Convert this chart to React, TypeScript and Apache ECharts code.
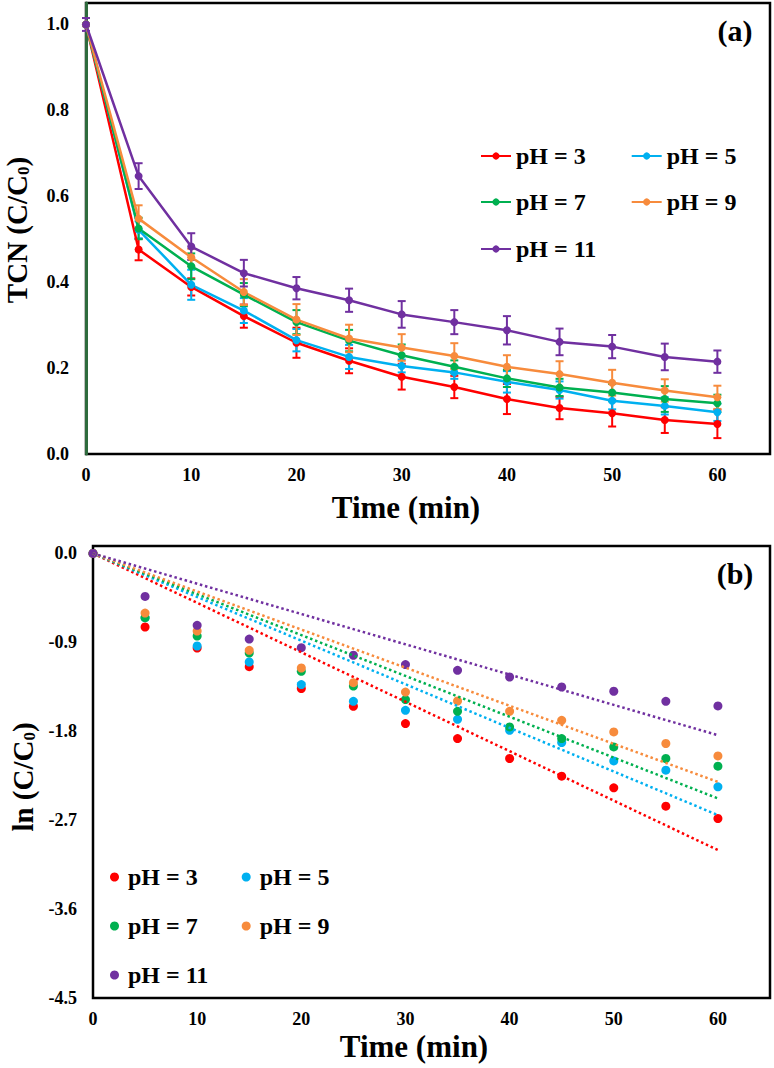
import { useEffect, useRef } from "react";
import * as echarts from "echarts";

const FONT = "'Liberation Serif', 'Times New Roman', serif";
const INK = "#000000";

// time axis (min)
const TIME = [0, 5, 10, 15, 20, 25, 30, 35, 40, 45, 50, 55, 60];
const PH = ["pH = 3", "pH = 5", "pH = 7", "pH = 9", "pH = 11"];
const COLORS = ["#FF0000", "#00B0F0", "#00B050", "#F78B3C", "#7030A0"];

// (a) TCN C/C0
const TCN_PH3 = [1.0, 0.476, 0.389, 0.321, 0.259, 0.217, 0.18, 0.156, 0.128, 0.107, 0.095, 0.079, 0.07];
const TCN_PH5 = [1.0, 0.522, 0.394, 0.334, 0.265, 0.226, 0.205, 0.19, 0.168, 0.149, 0.124, 0.112, 0.097];
const TCN_PH7 = [1.0, 0.525, 0.437, 0.371, 0.307, 0.264, 0.23, 0.203, 0.176, 0.155, 0.143, 0.128, 0.118];
const TCN_PH9 = [1.0, 0.548, 0.458, 0.377, 0.313, 0.269, 0.248, 0.228, 0.203, 0.186, 0.166, 0.148, 0.132];
const TCN_PH11 = [1.0, 0.647, 0.483, 0.421, 0.386, 0.358, 0.325, 0.307, 0.288, 0.261, 0.25, 0.226, 0.215];

// (a) error bars (±)
const ERR_PH3 = [0, 0.025, 0.02, 0.027, 0.035, 0.029, 0.03, 0.026, 0.035, 0.026, 0.031, 0.03, 0.033];
const ERR_PH5 = [0, 0.02, 0.035, 0.029, 0.026, 0.028, 0.015, 0.015, 0.025, 0.02, 0.02, 0.02, 0.02];
const ERR_PH7 = [0, 0.025, 0.03, 0.027, 0.028, 0.025, 0.025, 0.015, 0.02, 0.02, 0.02, 0.03, 0.02];
const ERR_PH9 = [0, 0.031, 0.02, 0.03, 0.036, 0.032, 0.031, 0.03, 0.027, 0.03, 0.03, 0.026, 0.027];
const ERR_PH11 = [0.015, 0.03, 0.031, 0.031, 0.026, 0.027, 0.031, 0.028, 0.033, 0.031, 0.027, 0.031, 0.026];

// (b) ln(C/C0)
const LN_PH3 = [0, -0.745, -0.958, -1.146, -1.368, -1.547, -1.722, -1.874, -2.076, -2.255, -2.373, -2.558, -2.683];
const LN_PH5 = [0, -0.65, -0.937, -1.099, -1.328, -1.497, -1.588, -1.679, -1.79, -1.914, -2.1, -2.194, -2.363];
const LN_PH7 = [0, -0.65, -0.836, -1.008, -1.193, -1.342, -1.479, -1.598, -1.756, -1.874, -1.959, -2.076, -2.154];
const LN_PH9 = [0, -0.604, -0.786, -0.981, -1.16, -1.308, -1.403, -1.494, -1.598, -1.689, -1.807, -1.924, -2.05];
const LN_PH11 = [0, -0.435, -0.728, -0.867, -0.954, -1.031, -1.125, -1.183, -1.251, -1.352, -1.395, -1.497, -1.544];

// (b) linear fits through origin, value at t = 60
const FIT_T = [0, 60];
const FIT_END = [-3.003, -2.649, -2.48, -2.313, -1.84];

const TCN = [TCN_PH3, TCN_PH5, TCN_PH7, TCN_PH9, TCN_PH11];
const ERR = [ERR_PH3, ERR_PH5, ERR_PH7, ERR_PH9, ERR_PH11];
const LN = [LN_PH3, LN_PH5, LN_PH7, LN_PH9, LN_PH11];

const fmt1 = (v: number) => (Math.abs(v) < 1e-9 ? "0.0" : v.toFixed(1));

const tickLabel = { color: INK, fontFamily: FONT, fontWeight: "bold" as const, fontSize: 18 };
const legendText = { color: INK, fontFamily: FONT, fontWeight: "bold" as const, fontSize: 24 };

function errorBar(color: string) {
  return (_p: unknown, api: any) => {
    const x = api.value(0);
    const y = api.value(1);
    const e = api.value(2);
    if (!e) return { type: "group", children: [] };
    const hi = api.coord([x, y + e]);
    const lo = api.coord([x, y - e]);
    const w = 4;
    const style = { stroke: color, lineWidth: 2 };
    return {
      type: "group",
      children: [
        { type: "line", shape: { x1: hi[0], y1: hi[1], x2: lo[0], y2: lo[1] }, style },
        { type: "line", shape: { x1: hi[0] - w, y1: hi[1], x2: hi[0] + w, y2: hi[1] }, style },
        { type: "line", shape: { x1: lo[0] - w, y1: lo[1], x2: lo[0] + w, y2: lo[1] }, style },
      ],
    };
  };
}

function title(text: string, x: number, y: number, rotate = false, size = 31) {
  return {
    type: "text",
    x,
    y,
    rotation: rotate ? Math.PI / 2 : 0,
    style: {
      text,
      fill: INK,
      fontFamily: FONT,
      fontWeight: "bold",
      fontSize: size,
      textAlign: "center",
      textVerticalAlign: "middle",
      rich: {
        sub: { fontFamily: FONT, fontWeight: "bold", fontSize: 17, fill: INK, verticalAlign: "bottom" },
      },
    },
  };
}

export default function App() {
  const ref = useRef<HTMLDivElement>(null);

  useEffect(() => {
    if (!ref.current) return;
    document.body.style.margin = "0";
    const chart = echarts.init(ref.current, undefined, { renderer: "svg" });

    const xAxisBase = {
      type: "value" as const,
      min: 0,
      max: 65,
      interval: 10,
      axisLine: { show: false },
      axisTick: { show: false },
      splitLine: { show: false },
      axisLabel: { ...tickLabel, margin: 12, showMaxLabel: false },
    };

    const lineSeries = PH.map((name, i) => ({
      name,
      type: "line",
      xAxisIndex: 0,
      yAxisIndex: 0,
      data: TIME.map((t, j) => [t, TCN[i][j]]),
      symbol: "circle",
      symbolSize: 8,
      lineStyle: { color: COLORS[i], width: 2.5 },
      itemStyle: { color: COLORS[i] },
      z: 3,
    }));

    const errSeries = PH.map((name, i) => ({
      name: `${name} err`,
      type: "custom",
      xAxisIndex: 0,
      yAxisIndex: 0,
      data: TIME.map((t, j) => [t, TCN[i][j], ERR[i][j]]),
      encode: { x: 0, y: 1 },
      renderItem: errorBar(COLORS[i]),
      z: 2,
    }));

    const scatterSeries = PH.map((name, i) => ({
      name,
      type: "scatter",
      xAxisIndex: 1,
      yAxisIndex: 1,
      data: TIME.map((t, j) => [t, LN[i][j]]),
      symbolSize: 9,
      itemStyle: { color: COLORS[i], opacity: 1 },
      z: 2,
    }));

    const fitSeries = PH.map((name, i) => ({
      name: `${name} fit`,
      type: "line",
      xAxisIndex: 1,
      yAxisIndex: 1,
      data: [
        [FIT_T[0], 0],
        [FIT_T[1], FIT_END[i]],
      ],
      symbol: "none",
      lineStyle: { color: COLORS[i], width: 2.5, type: [2.5, 2.8] },
      z: 3,
    }));

    const topLegend = (data: string[], top: number) => ({
      data,
      left: 480,
      top,
      padding: 0,
      itemGap: 45,
      itemWidth: 30,
      itemHeight: 9,
      textStyle: legendText,
    });
    const botLegend = (data: string[], top: number) => ({
      data,
      left: 110,
      top,
      padding: 0,
      icon: "circle",
      itemGap: 44,
      itemWidth: 9,
      itemHeight: 9,
      textStyle: { ...legendText, padding: [0, 0, 0, 4] },
    });

    chart.setOption({
      animation: false,
      backgroundColor: "#ffffff",
      grid: [
        { left: 86, top: 3, width: 684, height: 451, show: true, borderColor: INK, borderWidth: 2.5 },
        { left: 93, top: 546, width: 677, height: 452, show: true, borderColor: INK, borderWidth: 2.5 },
      ],
      xAxis: [
        { ...xAxisBase, gridIndex: 0 },
        { ...xAxisBase, gridIndex: 1 },
      ],
      yAxis: [
        {
          type: "value",
          gridIndex: 0,
          min: 0,
          max: 1.05,
          interval: 0.2,
          axisLine: { show: true, lineStyle: { color: "#2E6B3D", width: 3 } },
          axisTick: { show: false },
          splitLine: { show: false },
          axisLabel: { ...tickLabel, margin: 17, showMaxLabel: false, formatter: fmt1 },
        },
        {
          type: "value",
          gridIndex: 1,
          min: -4.5,
          max: 0.075,
          interval: 0.9,
          axisLine: { show: false },
          axisTick: { show: false },
          splitLine: { show: false },
          axisLabel: { ...tickLabel, margin: 16, showMaxLabel: false, formatter: fmt1 },
        },
      ],
      legend: [
        topLegend([PH[0], PH[1]], 144),
        topLegend([PH[2], PH[3]], 190),
        topLegend([PH[4]], 237),
        botLegend([PH[0], PH[1]], 865),
        botLegend([PH[2], PH[3]], 914),
        botLegend([PH[4]], 963),
      ],
      graphic: [
        title("TCN (C/C{sub|0})", 17, 230, true, 29),
        title("ln (C/C{sub|0})", 23, 777, true, 29),
        title("Time (min)", 406, 507),
        title("Time (min)", 414, 1046),
        title("(a)", 735, 30, false, 30),
        title("(b)", 735, 573, false, 30),
      ],
      series: [...errSeries, ...lineSeries, ...scatterSeries, ...fitSeries],
    });

    return () => {
      chart.dispose();
    };
  }, []);

  return <div ref={ref} style={{ width: 774, height: 1068 }} />;
}
